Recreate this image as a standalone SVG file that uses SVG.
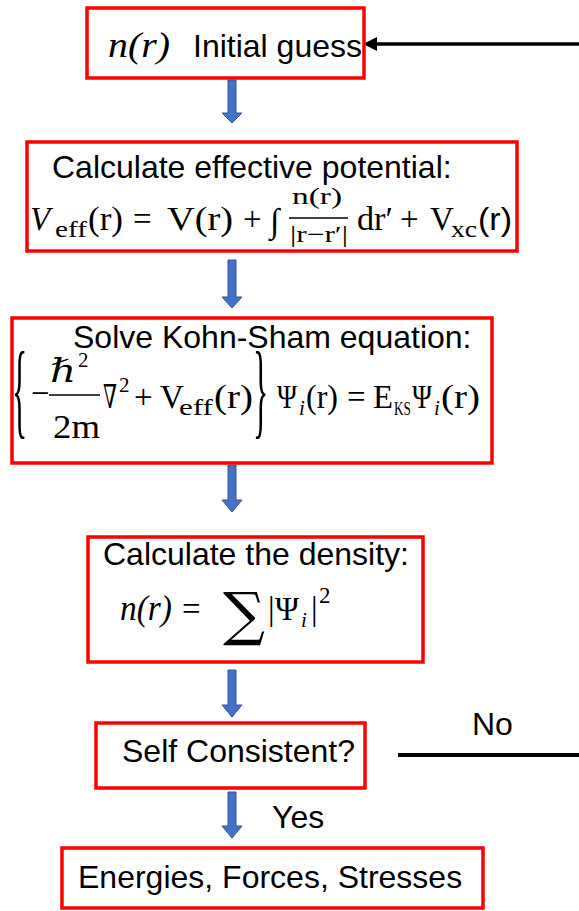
<svg xmlns="http://www.w3.org/2000/svg" width="579" height="911" viewBox="0 0 579 911">
<style>
.box{fill:#fff;stroke:#FF0000;stroke-width:3.5}
.t{font-family:"Liberation Sans",Arial,sans-serif;font-size:32px;fill:#000}
.m{font-family:"Liberation Serif","DejaVu Serif",serif;font-size:33px;fill:#000}
.mi{font-family:"Liberation Serif","DejaVu Serif",serif;font-size:33px;font-style:italic;fill:#000}
.s{font-family:"Liberation Serif","DejaVu Serif",serif;font-size:23px;fill:#000}
.si{font-family:"Liberation Serif","DejaVu Serif",serif;font-size:23px;font-style:italic;fill:#000}
.bar{stroke:#000;stroke-width:1.5}
.blue{fill:#4472C4;stroke:#2F5597;stroke-width:1}
</style>
<rect width="579" height="911" fill="#fff"/>
<g id="connectors">
<polygon class="blue" points="228,80 236,80 236,113 242,113 232,123 222,113 228,113"/>
<polygon class="blue" points="228,260 236,260 236,297 242,297 232,308 222,297 228,297"/>
<polygon class="blue" points="228,465 236,465 236,500 242,500 232,512 222,500 228,500"/>
<polygon class="blue" points="228,670 236,670 236,705 242,705 232,717 222,705 228,705"/>
<polygon class="blue" points="228,792 236,792 236,826 242,826 232,838 222,826 228,826"/>
<line x1="398" y1="755" x2="579" y2="755" stroke="#000" stroke-width="4"/>
<line x1="579" y1="44" x2="372" y2="44" stroke="#000" stroke-width="3.5"/>
<polygon points="363,44 377,37 377,51" fill="#000"/>
<text class="t" x="472" y="735">No</text>
<text class="t" x="272" y="828">Yes</text>
</g>
<g id="initial">
<rect class="box" x="87" y="8" width="277" height="70"/>
<text class="mi" x="108" y="57" style="font-size:36px" textLength="62" lengthAdjust="spacingAndGlyphs">n(r)</text>
<text class="t" x="193" y="57">Initial guess</text>
</g>
<g id="potential">
<rect class="box" x="27" y="142" width="490" height="109"/>
<text class="t" x="52" y="178">Calculate effective potential:</text>
<text class="mi" x="30" y="230">V</text>
<text class="s" x="55" y="237" textLength="32" lengthAdjust="spacingAndGlyphs">eff</text>
<text class="m" x="88" y="230" textLength="35" lengthAdjust="spacingAndGlyphs">(r)</text>
<text class="m" x="133" y="230">=</text>
<text class="m" x="167" y="230" textLength="66" lengthAdjust="spacingAndGlyphs">V(r)</text>
<text class="m" x="243" y="230">+</text>
<text class="m" x="270" y="232" style="font-size:34px">∫</text>
<text class="s" x="292" y="204" textLength="50" lengthAdjust="spacingAndGlyphs">n(r)</text>
<line class="bar" x1="289" y1="218" x2="348" y2="218"/>
<text class="s" x="290" y="242" textLength="58" lengthAdjust="spacingAndGlyphs">|r−r′|</text>
<text class="m" x="357" y="230" textLength="36" lengthAdjust="spacingAndGlyphs">dr′</text>
<text class="m" x="400" y="230">+</text>
<text class="m" x="430" y="230">V</text>
<text class="s" x="451" y="237" textLength="26" lengthAdjust="spacingAndGlyphs">xc</text>
<text class="t" x="478" y="230" textLength="34" lengthAdjust="spacingAndGlyphs">(r)</text>
</g>
<g id="kohnsham">
<rect class="box" x="12" y="318" width="480" height="145"/>
<text class="t" x="73" y="348">Solve Kohn-Sham equation:</text>
<text class="m" transform="translate(12,425) scale(0.3,1)" style="font-size:106px">{</text>
<text class="m" x="31" y="404">−</text>
<text class="mi" x="50" y="382" textLength="26" lengthAdjust="spacingAndGlyphs">ℏ</text>
<text class="s" x="78" y="367" style="font-size:21px">2</text>
<line class="bar" x1="49" y1="395" x2="100" y2="395"/>
<text class="m" x="53" y="438" textLength="47" lengthAdjust="spacingAndGlyphs">2m</text>
<text class="m" x="103" y="408" textLength="14" lengthAdjust="spacingAndGlyphs">∇</text>
<text class="s" x="119" y="392" style="font-size:21px">2</text>
<text class="m" x="134" y="408">+</text>
<text class="m" x="160" y="408">V</text>
<text class="s" x="179" y="415" textLength="34" lengthAdjust="spacingAndGlyphs">eff</text>
<text class="m" x="214" y="408" textLength="39" lengthAdjust="spacingAndGlyphs">(r)</text>
<text class="m" transform="translate(253,425) scale(0.3,1)" style="font-size:106px">}</text>
<text class="m" x="277" y="408" textLength="20" lengthAdjust="spacingAndGlyphs">Ψ</text>
<text class="si" x="299" y="415" style="font-size:21px">i</text>
<text class="m" x="306" y="408" textLength="32" lengthAdjust="spacingAndGlyphs">(r)</text>
<text class="m" x="347" y="408">=</text>
<text class="m" x="373" y="408" textLength="20" lengthAdjust="spacingAndGlyphs">E</text>
<text class="s" x="394" y="415" style="font-size:18px" textLength="17" lengthAdjust="spacingAndGlyphs">KS</text>
<text class="m" x="412" y="408" textLength="20" lengthAdjust="spacingAndGlyphs">Ψ</text>
<text class="si" x="434" y="415" style="font-size:21px">i</text>
<text class="m" x="441" y="408" textLength="39" lengthAdjust="spacingAndGlyphs">(r)</text>
</g>
<g id="density">
<rect class="box" x="88" y="537" width="335" height="125"/>
<text class="t" x="103" y="565">Calculate the density:</text>
<text class="mi" x="120" y="620" style="font-size:36px" textLength="52" lengthAdjust="spacingAndGlyphs">n(r)</text>
<text class="m" x="182" y="620">=</text>
<text x="223" y="634" style="font-family:'DejaVu Serif',serif;font-size:58px" textLength="42" lengthAdjust="spacingAndGlyphs">∑</text>
<text class="m" x="268" y="620">|</text>
<text class="m" x="275" y="620" textLength="24" lengthAdjust="spacingAndGlyphs">Ψ</text>
<text class="si" x="301" y="627" style="font-size:21px">i</text>
<text class="m" x="311" y="620">|</text>
<text class="s" x="319" y="603">2</text>
</g>
<g id="consistent">
<rect class="box" x="96" y="723" width="269" height="65"/>
<text class="t" x="122" y="762">Self Consistent?</text>
</g>
<g id="results">
<rect class="box" x="62" y="848" width="421" height="60"/>
<text class="t" x="78" y="888">Energies, Forces, Stresses</text>
</g>
</svg>
